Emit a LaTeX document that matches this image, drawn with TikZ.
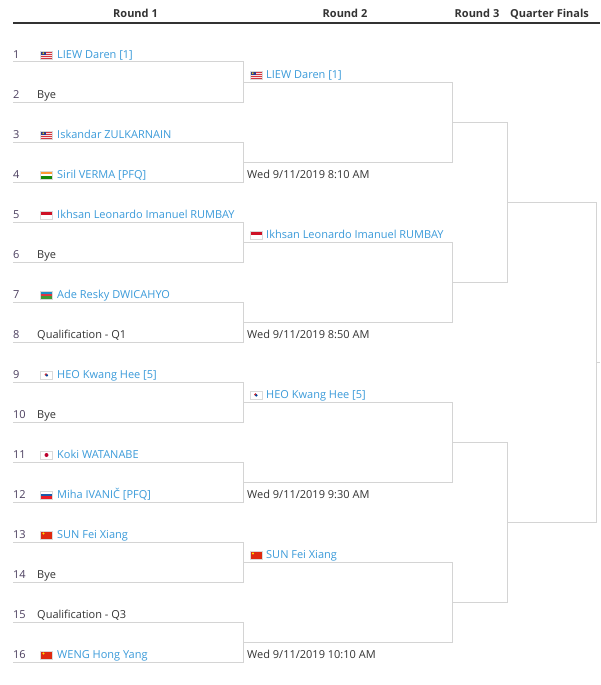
\documentclass[tikz,border=0pt]{standalone}
\usepackage{fontspec}
\setmainfont{Open Sans}
\usepackage{tikz}
\usetikzlibrary{positioning}
\usetikzlibrary{calc}
\definecolor{namblue}{HTML}{3A9AD9}
\definecolor{linegray}{HTML}{D4D4D4}
\definecolor{numpurple}{HTML}{4A3D5E}
\definecolor{txtgray}{HTML}{333333}
\definecolor{myred}{HTML}{D2353F}
\definecolor{myblue}{HTML}{2B3A8C}
\definecolor{myyellow}{HTML}{FFCC00}
\definecolor{insaffron}{HTML}{FF9933}
\definecolor{ingreen}{HTML}{138808}
\definecolor{idred}{HTML}{CE1126}
\definecolor{azblue}{HTML}{1C8FC4}
\definecolor{azred}{HTML}{E0343F}
\definecolor{azgreen}{HTML}{3F9A35}
\definecolor{krred}{HTML}{CD2E3A}
\definecolor{krblue}{HTML}{0047A0}
\definecolor{jpred}{HTML}{BC002D}
\definecolor{siblue}{HTML}{1D5AA8}
\definecolor{sired}{HTML}{ED1C24}
\definecolor{cnred}{HTML}{DE2910}
\definecolor{cnyellow}{HTML}{FFDE00}
\newcommand{\ppb}{path picture bounding box}
% three horizontal bands
\newcommand{\tricolour}[3]{%
  \fill[#1] (\ppb.north west) rectangle ([yshift=-2.67pt]\ppb.north east);
  \fill[#2] ([yshift=-2.67pt]\ppb.north west) rectangle ([yshift=2.67pt]\ppb.south east);
  \fill[#3] ([yshift=2.67pt]\ppb.south west) rectangle (\ppb.south east);
}
\tikzset {
  % texts of the draw
  num/.style={anchor=base west, inner sep=0pt, text=numpurple},
  player/.style={anchor=base west, inner sep=0pt, text=namblue},
  plain/.style={anchor=base west, inner sep=0pt, text=txtgray},
  head/.style={anchor=base, inner sep=0pt, text=txtgray, font=\fontsize{11}{13}\selectfont\bfseries},
  % lines of the draw
  bracket/.style={draw=linegray, line width=1pt},
  rule/.style={draw=txtgray, line width=1.5pt},
  % little flags
  flag/.style={draw=black!15, line width=0.3pt, minimum width=12pt, minimum height=8pt, inner sep=0pt, outer sep=0pt},
  mas/.style={flag, path picture={
      \fill[myred] (\ppb.south west) rectangle (\ppb.north east);
      \foreach \s/\t in {1.6/2.4,3.6/4.4,5.6/6.4}
        \fill[white!85!myred] ([yshift=-\s pt]\ppb.north west) rectangle ([yshift=-\t pt]\ppb.north east);
      \fill[myblue] (\ppb.north west) rectangle ([xshift=5.5pt,yshift=-4.4pt]\ppb.north west);
      \fill[myyellow] ([xshift=2.8pt,yshift=-2.2pt]\ppb.north west) circle (0.9pt);
    }},
  ind/.style={flag, path picture={\tricolour{insaffron}{white}{ingreen}}},
  ina/.style={flag, path picture={\fill[idred] (\ppb.north west) rectangle (\ppb.east);}},
  aze/.style={flag, path picture={\tricolour{azblue}{azred}{azgreen}}},
  kor/.style={flag, path picture={
      \fill[krred] ([xshift=-0.4pt,yshift=0.4pt]\ppb.center) circle (1.5pt);
      \fill[krblue] ([xshift=0.4pt,yshift=-0.4pt]\ppb.center) circle (1.3pt);
    }},
  jpn/.style={flag, path picture={\fill[jpred] (\ppb.center) circle (2pt);}},
  slo/.style={flag, path picture={\tricolour{white}{siblue}{sired}}},
  chn/.style={flag, path picture={
      \fill[cnred] (\ppb.south west) rectangle (\ppb.north east);
      \fill[cnyellow] ([xshift=3pt,yshift=-2.5pt]\ppb.north west) circle (1.2pt);
    }},
}
\begin{document}
\begin{tikzpicture}[x=1pt, y=-1pt, font=\fontsize{11}{13}\selectfont]
  \useasboundingbox (0,0) rectangle (600,685);

  % headings
  \node[head] (h1) at (135.5,18) {Round 1};
  \node[head] (h2) at (345,18) {Round 2};
  \node[head] (h3) at (477,18) {Round 3};
  \node[head] (h4) at (549.5,18) {Quarter Finals};
  \coordinate (hl) at (13,23);
  \coordinate (hr) at (600,23);
  \draw[rule] (hl) -- (hr);

  % end points of the bracket lines
  \foreach \i in {1,...,16} {
    \coordinate (a\i) at (13,22+40*\i);
    \coordinate (b\i) at (243,22+40*\i);
  }
  \foreach \i in {1,...,8} {
    \coordinate (p\i) at (243,2+80*\i);
    \coordinate (c\i) at (452,2+80*\i);
  }
  \foreach \i in {1,...,4} {
    \coordinate (q\i) at (452,-38+160*\i);
    \coordinate (d\i) at (507,-38+160*\i);
  }
  \foreach \i in {1,2} {
    \coordinate (r\i) at (507,-118+320*\i);
    \coordinate (e\i) at (596,-118+320*\i);
  }
  \coordinate (fin) at (600,362);

  \foreach \i/\k in {1/2,3/4,5/6,7/8,9/10,11/12,13/14,15/16}
    \draw[bracket] (a\i) -- (b\i) -- (b\k) -- (a\k);
  \foreach \i/\k in {1/2,3/4,5/6,7/8}
    \draw[bracket] (p\i) -- (c\i) -- (c\k) -- (p\k);
  \foreach \i/\k in {1/2,3/4}
    \draw[bracket] (q\i) -- (d\i) -- (d\k) -- (q\k);
  \draw[bracket] (r1) -- (e1) -- (e2) -- (r2);
  \draw[bracket] ($(e1)!.5!(e2)$) -- (fin);

  % round 1
  \node[num] (n1) at (13,58.5) {1};
  \node[mas] (f1) at (46.5,55) {};
  \node[player] (pl1) at (57,58.5) {LIEW Daren [1]};
  \node[num] (n2) at (13,98.5) {2};
  \node[plain] (pl2) at (37,98.5) {Bye};
  \node[num] (n3) at (13,138.5) {3};
  \node[mas] (f3) at (46.5,135) {};
  \node[player] (pl3) at (57,138.5) {Iskandar ZULKARNAIN};
  \node[num] (n4) at (13,178.5) {4};
  \node[ind] (f4) at (46.5,175) {};
  \node[player] (pl4) at (57,178.5) {Siril VERMA [PFQ]};
  \node[num] (n5) at (13,218.5) {5};
  \node[ina] (f5) at (46.5,215) {};
  \node[player] (pl5) at (57,218.5) {Ikhsan Leonardo Imanuel RUMBAY};
  \node[num] (n6) at (13,258.5) {6};
  \node[plain] (pl6) at (37,258.5) {Bye};
  \node[num] (n7) at (13,298.5) {7};
  \node[aze] (f7) at (46.5,295) {};
  \node[player] (pl7) at (57,298.5) {Ade Resky DWICAHYO};
  \node[num] (n8) at (13,338.5) {8};
  \node[plain] (pl8) at (37,338.5) {Qualification - Q1};
  \node[num] (n9) at (13,378.5) {9};
  \node[kor] (f9) at (46.5,375) {};
  \node[player] (pl9) at (57,378.5) {HEO Kwang Hee [5]};
  \node[num] (n10) at (13,418.5) {10};
  \node[plain] (pl10) at (37,418.5) {Bye};
  \node[num] (n11) at (13,458.5) {11};
  \node[jpn] (f11) at (46.5,455) {};
  \node[player] (pl11) at (57,458.5) {Koki WATANABE};
  \node[num] (n12) at (13,498.5) {12};
  \node[slo] (f12) at (46.5,495) {};
  \node[player] (pl12) at (57,498.5) {Miha IVANIČ [PFQ]};
  \node[num] (n13) at (13,538.5) {13};
  \node[chn] (f13) at (46.5,535) {};
  \node[player] (pl13) at (57,538.5) {SUN Fei Xiang};
  \node[num] (n14) at (13,578.5) {14};
  \node[plain] (pl14) at (37,578.5) {Bye};
  \node[num] (n15) at (13,618.5) {15};
  \node[plain] (pl15) at (37,618.5) {Qualification - Q3};
  \node[num] (n16) at (13,658.5) {16};
  \node[chn] (f16) at (46.5,655) {};
  \node[player] (pl16) at (57,658.5) {WENG Hong Yang};

  % round 2
  \node[mas] (wf1) at (256,75) {};
  \node[player] (w1) at (266,78.5) {LIEW Daren [1]};
  \node[plain] (time1) at (247,178.5) {Wed 9/11/2019 8:10 AM};
  \node[ina] (wf2) at (256,235) {};
  \node[player] (w2) at (266,238.5) {Ikhsan Leonardo Imanuel RUMBAY};
  \node[plain] (time2) at (247,338.5) {Wed 9/11/2019 8:50 AM};
  \node[kor] (wf3) at (256,395) {};
  \node[player] (w3) at (266,398.5) {HEO Kwang Hee [5]};
  \node[plain] (time3) at (247,498.5) {Wed 9/11/2019 9:30 AM};
  \node[chn] (wf4) at (256,555) {};
  \node[player] (w4) at (266,558.5) {SUN Fei Xiang};
  \node[plain] (time4) at (247,658.5) {Wed 9/11/2019 10:10 AM};
\end{tikzpicture}
\end{document}
